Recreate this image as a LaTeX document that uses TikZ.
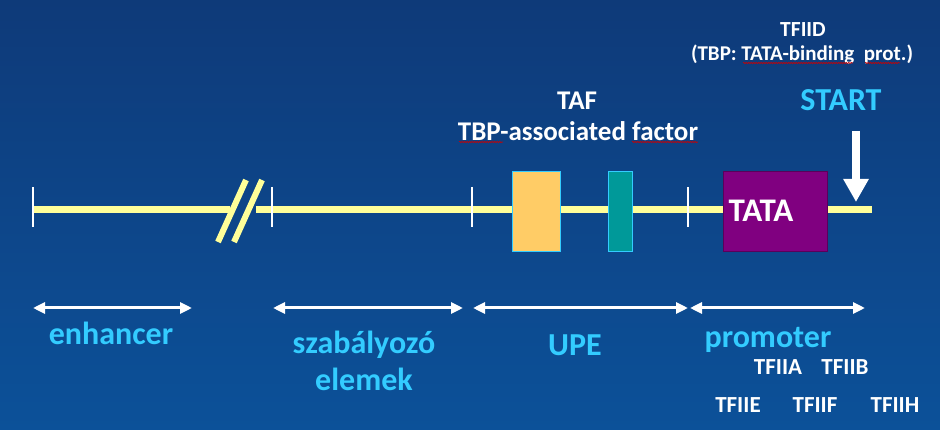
\documentclass[tikz,border=0pt]{standalone}
\usepackage{fontspec}
\setmainfont{Carlito}
\usetikzlibrary{arrows.meta,decorations.pathmorphing}
\definecolor{bgtop}{HTML}{0E3A79}
\definecolor{bgbot}{HTML}{0C5199}
\definecolor{dna}{HTML}{FFFF99}
\definecolor{lbl}{HTML}{33CCFF}
\definecolor{taf}{HTML}{FFCC66}
\definecolor{tealbox}{HTML}{009999}
\definecolor{tata}{HTML}{800080}
\begin{document}
\begin{tikzpicture}[x=1pt,y=-1pt,
  dnaline/.style={draw=dna,line width=7pt},
  slash/.style={draw=dna,line width=6pt},
  tick/.style={draw=white,line width=2.2pt},
  region/.style={draw=white,line width=3pt,{Triangle[length=12pt,width=11pt]}-{Triangle[length=12pt,width=11pt]}},
  cyantext/.style={text=lbl,font=\bfseries\fontsize{32}{34}\selectfont,inner sep=0pt,align=center},
  whitetext/.style={text=white,font=\bfseries\fontsize{27}{30}\selectfont,inner sep=0pt,align=center},
  tftext/.style={text=white,font=\bfseries\fontsize{23}{25}\selectfont,inner sep=0pt},
  boxel/.style={draw=lbl,line width=0.8pt,minimum width=#1,minimum height=80pt,inner sep=0pt},
  squig/.style={draw=red!80!black,line width=0.6pt,decorate,decoration={snake,amplitude=0.7pt,segment length=2.5pt}}
]
\useasboundingbox (0,0) rectangle (940,430);
\shade[top color=bgtop,bottom color=bgbot] (0,0) rectangle (940,430);

% DNA line
\coordinate (d1) at (33,210);
\coordinate (d2) at (230,210);
\coordinate (d3) at (256,210);
\coordinate (d4) at (872,210);
\draw[dnaline] (d1) -- (d2);
\draw[dnaline] (d3) -- (d4);
% break slashes
\draw[slash] (246,180) -- (218,242);
\draw[slash] (262,180) -- (234,242);
% ticks
\foreach \x in {33,272,472,688} \draw[tick] (\x,187) -- (\x,227);

% boxes
\node[boxel=48pt,fill=taf] (tafbox) at (536,211) {};
\node[boxel=24pt,fill=tealbox] (tealb) at (620,211) {};
\node[draw=tata!70!black,line width=0.8pt,fill=tata,minimum width=104pt,minimum height=80pt,inner sep=0pt] (tatabox) at (775,211) {};
\node[text=white,font=\bfseries\fontsize{33}{35}\selectfont,inner sep=0pt] (tatatext) at (761,211) {TATA};

% start arrow
\coordinate (sa) at (856,131);
\coordinate (sb) at (856,202);
\draw[white,line width=8pt,-{Triangle[length=23pt,width=24pt]}] (sa) -- (sb);
\node[cyantext] (start) at (841,100) {START};

% TAF labels
\node[whitetext] (taf) at (577,101) {TAF};
\node[whitetext] (tbpaf) at (578,131) {TBP-associated factor};
\draw[squig] (459,142) -- (503,142);
\draw[squig] (632,142) -- (698,142);

% TFIID
\node[tftext,font=\bfseries\fontsize{21.5}{24}\selectfont] (tfiid) at (803,30) {TFIID};
\node[tftext,font=\bfseries\fontsize{21}{24}\selectfont] (tbp) at (802,54) {(TBP: TATA-binding\ \ prot.)};
\draw[squig] (743,63) -- (853,63);
\draw[squig] (865,63) -- (900,63);

% region arrows
\coordinate (e1) at (33,308); \coordinate (e2) at (192,308);
\coordinate (s1) at (273,308); \coordinate (s2) at (463,308);
\coordinate (u1) at (473,308); \coordinate (u2) at (688,308);
\coordinate (p1) at (690,308); \coordinate (p2) at (865,308);
\draw[region] (e1) -- (e2);
\draw[region] (s1) -- (s2);
\draw[region] (u1) -- (u2);
\draw[region] (p1) -- (p2);

\node[cyantext] (enh) at (111,333) {enhancer};
\node[cyantext] (szab) at (364,345) {szabályozó};
\node[cyantext] (elem) at (364,379) {elemek};
\node[cyantext] (upe) at (575,345) {UPE};
\node[cyantext] (prom) at (768,340) {promoter};

\node[tftext] (tfiia) at (778,367) {TFIIA};
\node[tftext] (tfiib) at (845,367) {TFIIB};
\node[tftext] (tfiie) at (738,405) {TFIIE};
\node[tftext] (tfiif) at (815,405) {TFIIF};
\node[tftext] (tfiih) at (895,405) {TFIIH};
\end{tikzpicture}
\end{document}
